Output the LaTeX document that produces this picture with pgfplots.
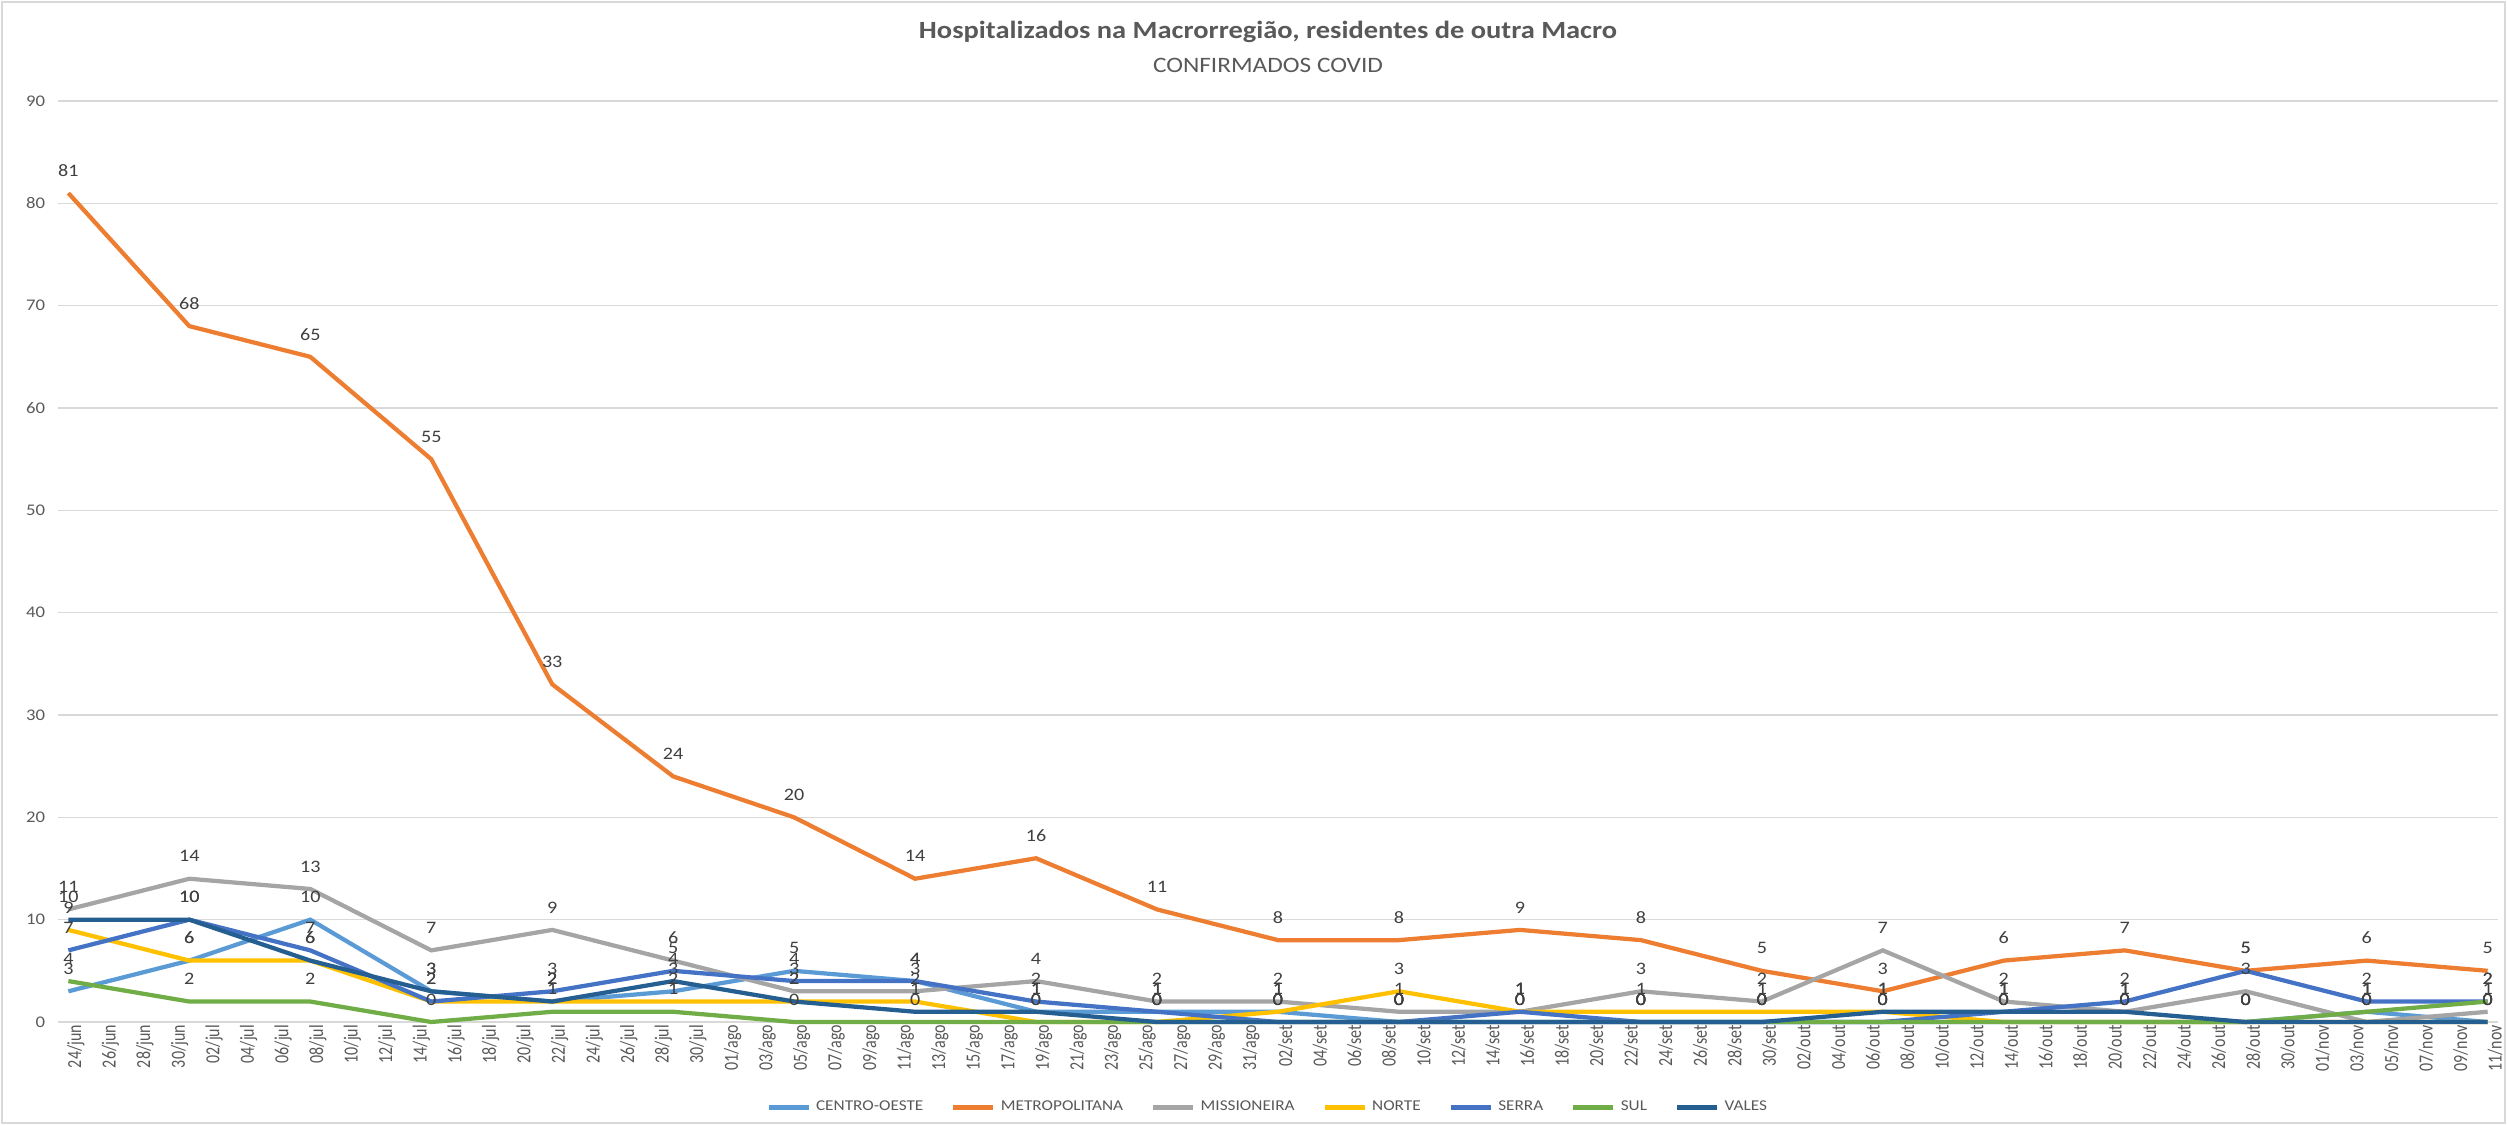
\documentclass[border=0pt]{standalone}
\usepackage{pgfplots}
\pgfplotsset{compat=1.18}
\usepackage{pgfplotstable}
\usepackage{fontspec}
\setmainfont{Carlito}[FakeStretch=1.15]
\newfontfamily\tickfont{Carlito}[FakeStretch=0.8]
\definecolor{cCO}{HTML}{5B9BD5}
\definecolor{cME}{HTML}{ED7D31}
\definecolor{cMI}{HTML}{A5A5A5}
\definecolor{cNO}{HTML}{FFC000}
\definecolor{cSE}{HTML}{4472C4}
\definecolor{cSU}{HTML}{70AD47}
\definecolor{cVA}{HTML}{255E91}
\definecolor{cText}{HTML}{595959}
\definecolor{cLab}{HTML}{404040}
\definecolor{cGrid}{HTML}{D9D9D9}

% x = days since 24/jun (weekly data)
\pgfplotstableread{
x   co me mi no se su va
0   3  81 11 9  7  4  10
7   6  68 14 6  10 2  10
14  10 65 13 6  7  2  6
21  3  55 7  2  2  0  3
28  2  33 9  2  3  1  2
35  3  24 6  2  5  1  4
42  5  20 3  2  4  0  2
49  4  14 3  2  4  0  1
56  1  16 4  0  2  0  1
63  1  11 2  0  1  0  0
70  1  8  2  1  0  0  0
77  0  8  1  3  0  0  0
84  0  9  1  1  1  0  0
91  0  8  3  1  0  0  0
98  0  5  2  1  0  0  0
105 0  3  7  1  0  0  1
112 0  6  2  0  1  0  1
119 0  7  1  0  2  0  1
126 0  5  3  0  5  0  0
133 1  6  0  0  2  1  0
140 0  5  1  0  2  2  0
}\data

\begin{document}
\begin{tikzpicture}
\useasboundingbox (0,0) rectangle (1002.8pt,450pt);
\draw[cGrid, line width=0.6pt] (0.8pt,0.8pt) rectangle (1002pt,449.2pt);
\node[font=\bfseries\fontsize{9.9}{12}\selectfont, text=cText] at (507.2pt,437.2pt) {Hospitalizados na Macrorregião, residentes de outra Macro};
\node[font=\fontsize{8.8}{10}\selectfont, text=cText] at (507.2pt,423.8pt) {CONFIRMADOS COVID};
\begin{axis}[
  at={(23.2pt,41.2pt)}, anchor=south west,
  scale only axis, width=976pt, height=368.4pt,
  xmin=-0.6, xmax=140.6, ymin=0, ymax=90,
  clip=false,
  /pgf/number format/assume math mode=true,
  xtick={0,2,...,140},
  xticklabels={24/jun,26/jun,28/jun,30/jun,02/jul,04/jul,06/jul,08/jul,10/jul,12/jul,14/jul,16/jul,18/jul,20/jul,22/jul,24/jul,26/jul,28/jul,30/jul,01/ago,03/ago,05/ago,07/ago,09/ago,11/ago,13/ago,15/ago,17/ago,19/ago,21/ago,23/ago,25/ago,27/ago,29/ago,31/ago,02/set,04/set,06/set,08/set,10/set,12/set,14/set,16/set,18/set,20/set,22/set,24/set,26/set,28/set,30/set,02/out,04/out,06/out,08/out,10/out,12/out,14/out,16/out,18/out,20/out,22/out,24/out,26/out,28/out,30/out,01/nov,03/nov,05/nov,07/nov,09/nov,11/nov},
  ytick={0,10,...,90},
  ymajorgrids, grid style={color=cGrid, line width=0.6pt},
  axis line style={draw=none},
  major tick length=0pt,
  xticklabel style={rotate=90, anchor=east, font=\tickfont\fontsize{8}{9}\selectfont, text=cText, inner sep=1pt, yshift=-3pt},
  yticklabel style={anchor=east, font=\fontsize{6.5}{7}\selectfont, text=cText, inner sep=1pt, xshift=-4pt},
  legend columns=7,
  legend style={at={(0.4963,-0.0923)}, anchor=center, draw=none, fill=none,
    font=\fontsize{6}{7}\selectfont, text=cText, inner sep=0pt,
    /tikz/every even column/.append style={column sep=9pt}},
  legend image code/.code={\draw[#1, line width=2pt] (0pt,0pt) -- (16pt,0pt);},
  every axis plot/.append style={line width=1.7pt, mark=none},
  nodes near coords style={anchor=center, yshift=9pt, font=\fontsize{7}{8}\selectfont, text=cLab},
]
\addplot[cCO] table[x=x, y=co] {\data}; \addlegendentry{CENTRO-OESTE}
\addplot[cME] table[x=x, y=me] {\data}; \addlegendentry{METROPOLITANA}
\addplot[cMI] table[x=x, y=mi] {\data}; \addlegendentry{MISSIONEIRA}
\addplot[cNO] table[x=x, y=no] {\data}; \addlegendentry{NORTE}
\addplot[cSE] table[x=x, y=se] {\data}; \addlegendentry{SERRA}
\addplot[cSU] table[x=x, y=su] {\data}; \addlegendentry{SUL}
\addplot[cVA] table[x=x, y=va] {\data}; \addlegendentry{VALES}
\pgfplotsinvokeforeach{co,me,mi,no,se,su,va}{
  \addplot[draw=none, forget plot, nodes near coords, point meta=y] table[x=x, y=#1] {\data};
}
\end{axis}
\end{tikzpicture}
\end{document}
